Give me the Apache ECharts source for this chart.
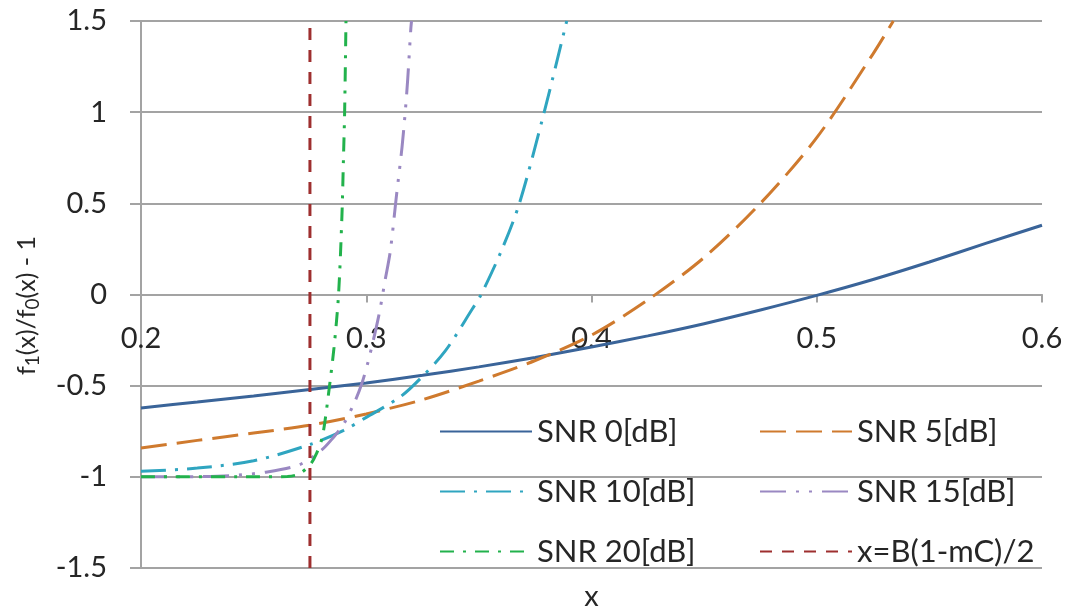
<!DOCTYPE html>
<html>
<head>
<meta charset="utf-8">
<script src="https://cdn.jsdelivr.net/npm/echarts@6/dist/echarts.min.js"></script>
<style>
  html, body { margin: 0; padding: 0; background: #ffffff; }
  #chart { width: 1069px; height: 610px; }
</style>
</head>
<body>
<div id="chart"></div>
<script>
// ---- data ----
const xTicks = { min: 0.2, max: 0.6, interval: 0.1 };
const yTicks = { min: -1.5, max: 1.5, interval: 0.5 };

const seriesNames = ['SNR 0[dB]', 'SNR 5[dB]', 'SNR 10[dB]', 'SNR 15[dB]', 'SNR 20[dB]', 'x=B(1-mC)/2'];

const snr0 = [[0.2,-0.622],[0.225,-0.59],[0.25,-0.557],[0.275,-0.521],[0.3,-0.485],[0.325,-0.443],
  [0.35,-0.397],[0.375,-0.345],[0.4,-0.288],[0.425,-0.227],[0.45,-0.16],[0.475,-0.085],
  [0.5,-0.005],[0.525,0.082],[0.55,0.178],[0.575,0.28],[0.6,0.38]];

const snr5 = [[0.2,-0.842],[0.225,-0.80],[0.25,-0.76],[0.275,-0.717],[0.3,-0.655],[0.325,-0.577],
  [0.35,-0.475],[0.375,-0.362],[0.4,-0.223],[0.425,-0.03],[0.45,0.203],[0.475,0.5],
  [0.5,0.86],[0.525,1.32],[0.534,1.5]];

const snr10 = [[0.2,-0.97],[0.225,-0.952],[0.25,-0.912],[0.275,-0.823],[0.29,-0.745],[0.3,-0.674],
  [0.315,-0.562],[0.324,-0.461],[0.335,-0.311],[0.347,-0.081],[0.351,0.0],[0.36,0.24],
  [0.368,0.5],[0.379,1.0],[0.389,1.5]];

const snr15 = [[0.2,-1.0],[0.225,-0.999],[0.24,-0.993],[0.255,-0.975],[0.27,-0.935],[0.28,-0.855],
  [0.285,-0.79],[0.29,-0.71],[0.295,-0.585],[0.298,-0.49],[0.301,-0.36],[0.3055,-0.12],
  [0.3084,0.08],[0.3107,0.24],[0.3133,0.53],[0.3159,0.81],[0.3173,1.0],[0.3184,1.18],
  [0.3198,1.46],[0.3201,1.5]];

const snr20 = [[0.2,-1.0],[0.25,-1.0],[0.265,-0.998],[0.27,-0.985],[0.275,-0.935],[0.278,-0.87],
  [0.2803,-0.79],[0.2815,-0.71],[0.2833,-0.54],[0.2857,-0.29],[0.2877,0.0],[0.2892,0.43],
  [0.2899,0.755],[0.2904,1.0],[0.291,1.5]];

const boundary = [[0.275,-1.5],[0.275,1.5]];

// ---- styles ----
const FONT = 'Lato';
const TXT = '#262626';
const GRID = '#A3A3A3';
const colors = ['#3A6499', '#CF7A2E', '#2FA5C0', '#9A88C2', '#22B24C', '#9E2F2F'];
const dashes = ['solid', [26, 10], [25, 9, 3, 9], [26, 10, 3, 10, 3, 10], [14, 9, 3, 9], [12, 10]];
const datasets = [snr0, snr5, snr10, snr15, snr20, boundary];

const GRID_TOP = 21, GRID_BOTTOM = 42, H = 610;
const plotH = H - GRID_TOP - GRID_BOTTOM;
// distance from bottom edge of plot to the y = 0 line, through the y scale
const zeroFromBottom = plotH * (0 - yTicks.min) / (yTicks.max - yTicks.min);

const chart = echarts.init(document.getElementById('chart'), null, { renderer: 'canvas' });

const series = datasets.map((d, i) => ({
  name: seriesNames[i],
  type: 'line',
  data: d,
  symbol: 'none',
  smooth: i === 5 ? false : 0.3,
  clip: true,
  z: i === 5 ? 3 : 2,
  lineStyle: { color: colors[i], width: 3, type: dashes[i], cap: 'butt' },
  itemStyle: { color: colors[i] }
}));

const legendText = { fontFamily: FONT, fontSize: 31, color: TXT, lineHeight: 30 };
const legendItemStyle = { color: 'rgba(0,0,0,0)', borderWidth: 0, opacity: 0 };

chart.setOption({
  animation: false,
  backgroundColor: '#ffffff',
  grid: { left: 141, right: 27, top: GRID_TOP, bottom: GRID_BOTTOM, containLabel: false, outerBoundsMode: 'none' },
  legend: [
    {
      data: [seriesNames[0], seriesNames[2], seriesNames[4]],
      orient: 'vertical', left: 434, top: 411,
      itemWidth: 92, itemHeight: 14, itemGap: 29,
      itemStyle: legendItemStyle,
      textStyle: legendText
    },
    {
      data: [seriesNames[1], seriesNames[3], seriesNames[5]],
      orient: 'vertical', left: 754, top: 411,
      itemWidth: 92, itemHeight: 14, itemGap: 29,
      itemStyle: legendItemStyle,
      textStyle: legendText
    }
  ],
  xAxis: {
    type: 'value',
    min: xTicks.min, max: xTicks.max, interval: xTicks.interval,
    offset: -zeroFromBottom,
    name: 'x',
    nameLocation: 'middle',
    nameGap: 288,
    nameTextStyle: { fontFamily: FONT, fontSize: 29, color: TXT },
    axisLine: { show: true, onZero: false, lineStyle: { color: GRID, width: 2 } },
    axisTick: { show: true, inside: false, length: 8, lineStyle: { color: GRID, width: 2 } },
    axisLabel: { show: true, margin: 30, fontFamily: FONT, fontSize: 29, color: TXT,
      showMinLabel: true, showMaxLabel: true },
    splitLine: { show: false }
  },
  yAxis: {
    type: 'value',
    min: yTicks.min, max: yTicks.max, interval: yTicks.interval,
    name: '{a|f}{s|1}{a|(x)/f}{s|0}{a|(x) - 1}',
    nameLocation: 'middle',
    nameRotate: 90,
    nameGap: 99,
    nameTextStyle: {
      padding: [0, 22, 0, 0],
      rich: {
        a: { fontFamily: FONT, fontSize: 25, color: TXT, lineHeight: 30 },
        s: { fontFamily: FONT, fontSize: 19, color: TXT, lineHeight: 20, verticalAlign: 'bottom' }
      }
    },
    axisLine: { show: true, lineStyle: { color: GRID, width: 2 } },
    axisTick: { show: true, inside: false, length: 11, lineStyle: { color: GRID, width: 2 } },
    axisLabel: { margin: 34, fontFamily: FONT, fontSize: 29, color: TXT },
    splitLine: { show: true, lineStyle: { color: GRID, width: 2 } }
  },
  series: series
});
</script>
</body>
</html>
